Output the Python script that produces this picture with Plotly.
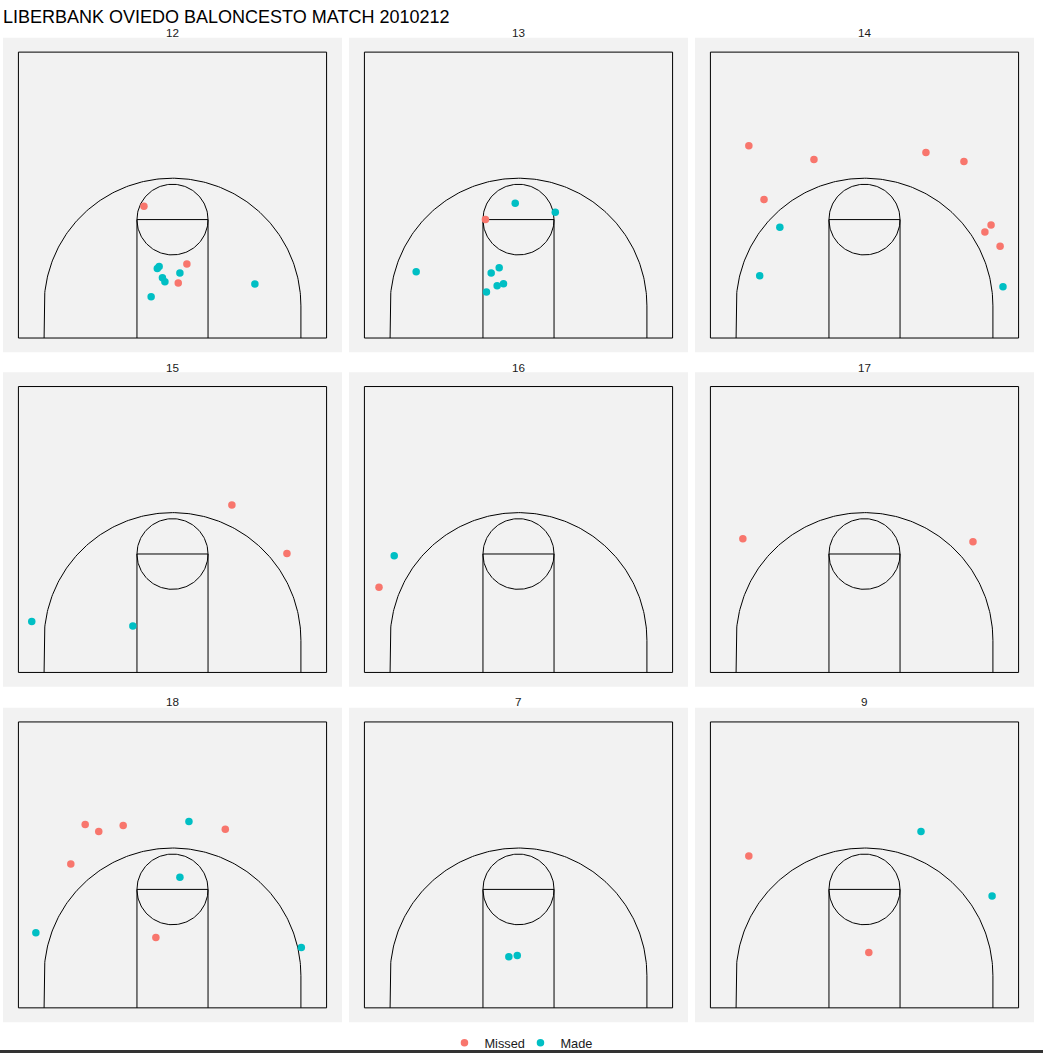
import numpy as np
import plotly.graph_objects as go

TITLE = "LIBERBANK OVIEDO BALONCESTO MATCH 2010212"
PLAYERS = ["12", "13", "14", "15", "16", "17", "18", "7", "9"]
RESULT_LABELS = ["Missed", "Made"]
RESULT_COLORS = {"Missed": "#F8766D", "Made": "#00BFC4"}

# Shot locations (metres, baseline at y=0, basket axis at x=0) per player
shots_12_x = [-1.39, 0.70, 0.28, -0.74, -0.65, -0.49, -0.37, 0.36, -1.04, 4.01]
shots_12_y = [6.45, 3.63, 2.69, 3.41, 3.50, 2.95, 2.75, 3.19, 2.02, 2.64]
shots_12_r = ["Missed", "Missed", "Missed", "Made", "Made", "Made", "Made", "Made", "Made", "Made"]

shots_13_x = [-1.61, -0.16, 1.79, -4.98, -1.33, -0.94, -1.04, -0.73, -1.56]
shots_13_y = [5.81, 6.60, 6.16, 3.24, 3.19, 3.44, 2.56, 2.66, 2.25]
shots_13_r = ["Missed", "Made", "Made", "Made", "Made", "Made", "Made", "Made", "Made"]

shots_14_x = [-5.63, -2.46, 2.99, 4.84, -4.89, 6.16, 5.86, 6.60, -4.12, -5.10, 6.74]
shots_14_y = [9.42, 8.74, 9.08, 8.64, 6.78, 5.53, 5.19, 4.49, 5.43, 3.05, 2.51]
shots_14_r = ["Missed"] * 8 + ["Made"] * 3

shots_15_x = [2.89, 5.57, -6.85, -1.93]
shots_15_y = [8.20, 5.82, 2.50, 2.27]
shots_15_r = ["Missed", "Missed", "Made", "Made"]

shots_16_x = [-6.05, -6.79]
shots_16_y = [5.71, 4.17]
shots_16_r = ["Made", "Missed"]

shots_17_x = [-5.92, 5.28]
shots_17_y = [6.55, 6.40]
shots_17_r = ["Missed", "Missed"]

shots_18_x = [-4.25, -3.59, -2.40, 2.57, -4.95, -0.81, 0.80, 0.36, -6.65, 6.27]
shots_18_y = [8.98, 8.64, 8.93, 8.74, 7.04, 3.44, 9.13, 6.40, 3.68, 2.95]
shots_18_r = ["Missed"] * 6 + ["Made"] * 4

shots_7_x = [-0.47, -0.06]
shots_7_y = [2.50, 2.56]
shots_7_r = ["Made", "Made"]

shots_9_x = [-5.63, 2.75, 6.21, 0.21]
shots_9_y = [7.43, 8.64, 5.48, 2.71]
shots_9_r = ["Missed", "Made", "Made", "Missed"]

SHOTS = {
    "12": (shots_12_x, shots_12_y, shots_12_r),
    "13": (shots_13_x, shots_13_y, shots_13_r),
    "14": (shots_14_x, shots_14_y, shots_14_r),
    "15": (shots_15_x, shots_15_y, shots_15_r),
    "16": (shots_16_x, shots_16_y, shots_16_r),
    "17": (shots_17_x, shots_17_y, shots_17_r),
    "18": (shots_18_x, shots_18_y, shots_18_r),
    "7": (shots_7_x, shots_7_y, shots_7_r),
    "9": (shots_9_x, shots_9_y, shots_9_r),
}

# Court geometry (metres)
COURT_W, COURT_L = 15.0, 14.0
KEY_HALF = 1.73
FT_Y = 5.8
FT_R = 1.73
BASKET_Y = 1.575
THREE_R = 6.25


def court_path():
    xs, ys = [], []
    def seg(px, py):
        xs.extend(list(px) + [None])
        ys.extend(list(py) + [None])
    hw = COURT_W / 2
    seg([-hw, hw, hw, -hw, -hw], [0, 0, COURT_L, COURT_L, 0])
    seg([-KEY_HALF, -KEY_HALF, KEY_HALF, KEY_HALF], [0, FT_Y, FT_Y, 0])
    t = np.linspace(0, 2 * np.pi, 181)
    seg(FT_R * np.cos(t), FT_Y + FT_R * np.sin(t))
    a = np.linspace(np.pi, 0, 181)
    seg([-THREE_R] + list(THREE_R * np.cos(a)) + [THREE_R],
        [0] + list(BASKET_Y + THREE_R * np.sin(a)) + [0])
    return xs, ys


W, H = 1043, 1058
COLS_PX = [(3, 342), (349, 688), (695, 1034)]
ROWS_PX = [(38, 354), (374, 690), (711, 1027)]
STRIP_Y = [32.5, 369, 705]

fig = go.Figure()
cx, cy = court_path()
shown = set()
annotations = []
for i, p in enumerate(PLAYERS):
    r, c = divmod(i, 3)
    n = i + 1
    xa = "x" if n == 1 else f"x{n}"
    ya = "y" if n == 1 else f"y{n}"
    fig.add_trace(go.Scatter(x=cx, y=cy, mode="lines", line=dict(color="black", width=1),
                             hoverinfo="skip", showlegend=False, xaxis=xa, yaxis=ya))
    xs, ys, rs = SHOTS[p]
    for lab in RESULT_LABELS:
        px = [x for x, rr in zip(xs, rs) if rr == lab]
        py = [y for y, rr in zip(ys, rs) if rr == lab]
        fig.add_trace(go.Scatter(x=px, y=py, mode="markers", name=lab, legendgroup=lab,
                                 showlegend=lab not in shown,
                                 marker=dict(color=RESULT_COLORS[lab], size=7.5),
                                 xaxis=xa, yaxis=ya))
        shown.add(lab)
    x0, x1 = COLS_PX[c]
    y0, y1 = ROWS_PX[r]
    axcommon = dict(showgrid=False, zeroline=False, showticklabels=False, ticks="",
                    showline=False, fixedrange=True)
    fig.layout[f"xaxis{n if n > 1 else ''}"] = dict(
        domain=[x0 / W, x1 / W], range=[-8.25, 8.25], anchor=ya, **axcommon)
    fig.layout[f"yaxis{n if n > 1 else ''}"] = dict(
        domain=[1 - y1 / H, 1 - y0 / H], range=[-0.7, 14.7], anchor=xa, **axcommon)
    fig.add_shape(type="rect", xref="paper", yref="paper",
                  x0=x0 / W, x1=x1 / W, y0=1 - y1 / H, y1=1 - y0 / H,
                  fillcolor="#F2F2F2", line=dict(width=0), layer="below")
    annotations.append(dict(text=p, x=(x0 + x1) / 2 / W, y=1 - STRIP_Y[r] / H,
                            xref="paper", yref="paper", showarrow=False,
                            xanchor="center", yanchor="middle",
                            font=dict(size=11.7, color="#1A1A1A")))

annotations.append(dict(text=TITLE, x=1 / W, y=1 - 17 / H, xref="paper", yref="paper",
                        showarrow=False, xanchor="left", yanchor="middle",
                        font=dict(size=18, color="black")))

fig.add_shape(type="rect", xref="paper", yref="paper", x0=0, x1=1, y0=0, y1=3 / H,
              fillcolor="#333333", line=dict(width=0))

fig.update_layout(
    width=W, height=H,
    margin=dict(l=0, r=0, t=0, b=0),
    paper_bgcolor="white", plot_bgcolor="rgba(0,0,0,0)",
    font=dict(family="Liberation Sans, Arial, sans-serif", color="#1A1A1A"),
    annotations=annotations,
    showlegend=True,
    legend=dict(orientation="h", x=0.499, xanchor="center", y=1 - 1048 / H, yanchor="middle",
                font=dict(size=12.8), itemsizing="trace", bgcolor="rgba(0,0,0,0)",
                entrywidth=31, entrywidthmode="pixels"),
)

fig.write_html("out.html", config={"displayModeBar": False},
               post_script="document.body.style.margin='0';document.body.style.overflow='hidden';")
